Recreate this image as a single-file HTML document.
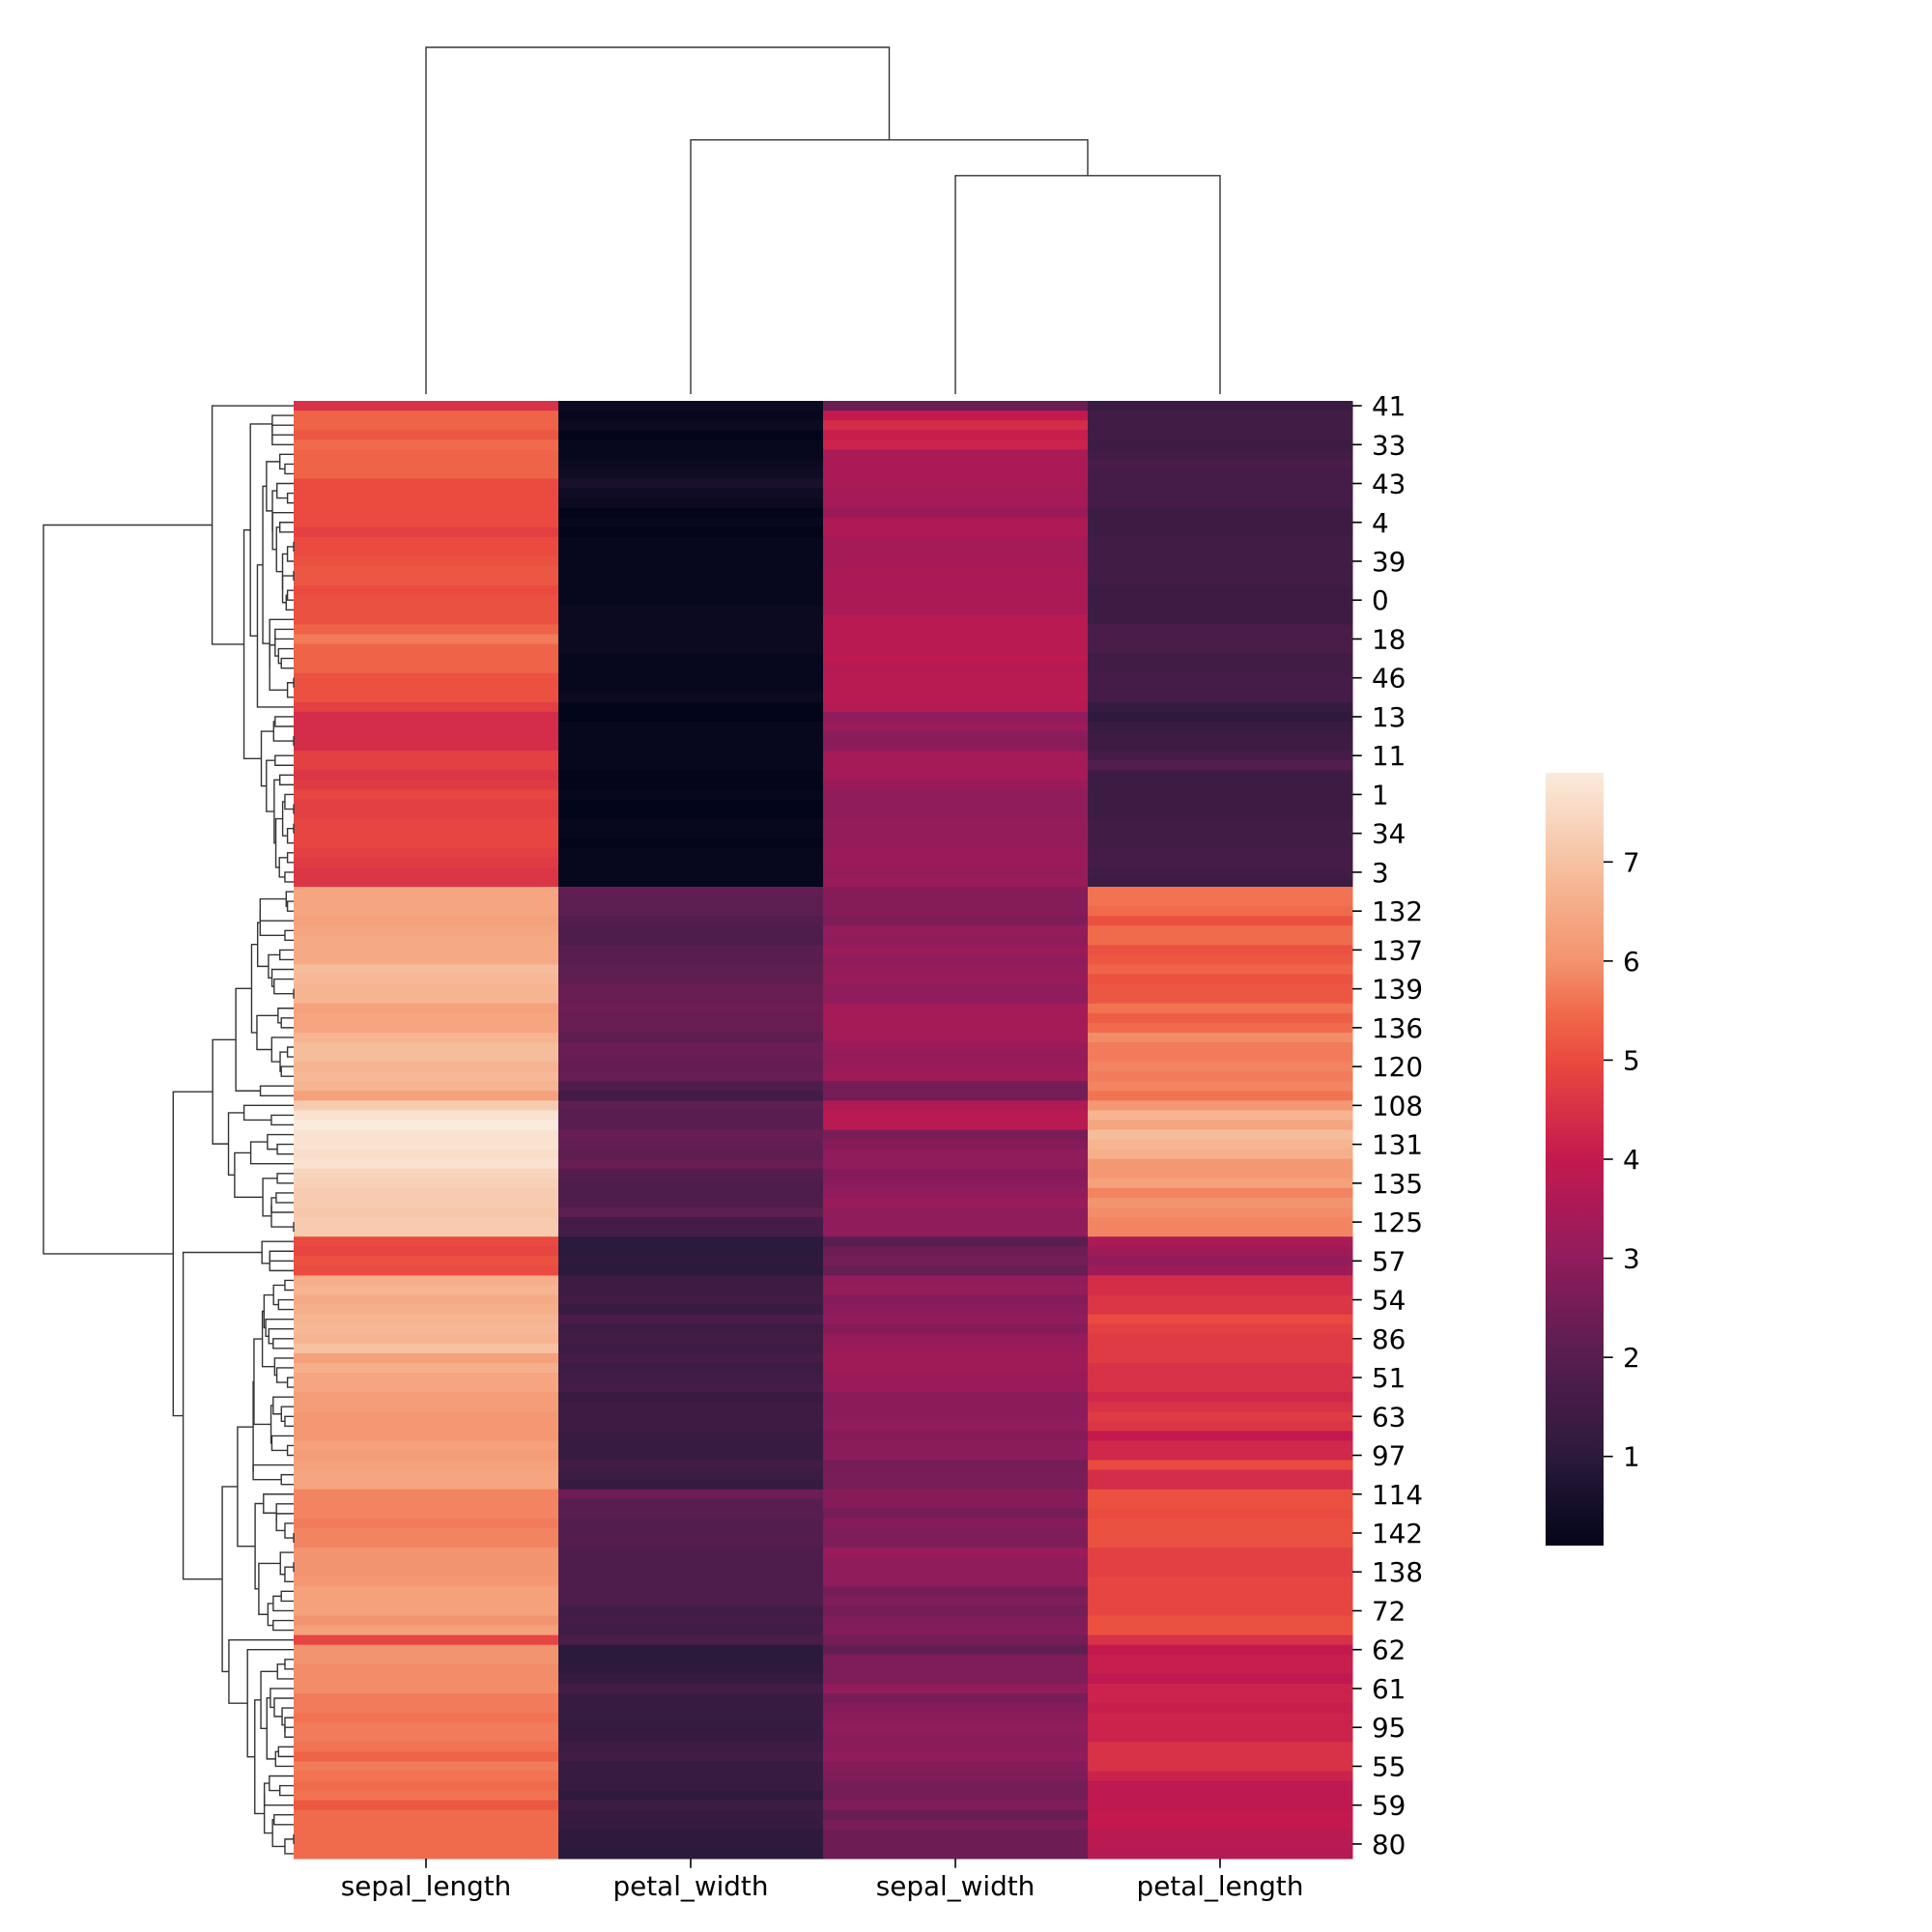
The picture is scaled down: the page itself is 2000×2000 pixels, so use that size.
<!DOCTYPE html>
<html><head><meta charset="utf-8"><style>
html,body{margin:0;padding:0;background:#fff;}
svg{display:block;font-family:"DejaVu Sans","Liberation Sans",sans-serif;}
</style></head><body>
<svg id="chart" xmlns="http://www.w3.org/2000/svg" width="2000" height="2000" viewBox="0 0 2000 2000">
<rect x="0" y="0" width="2000" height="2000" fill="#fff"/>
<g id="cells"></g>
<g id="rowdend"></g>
<g id="coldend"></g>
<g id="yticks"></g>
<g id="xticks"></g>
<g id="cbar"></g>
</svg>
<script>
const columns = ["sepal_length","petal_width","sepal_width","petal_length"];
// rows in clustered order: [sepal_length, petal_width, sepal_width, petal_length]
const sepalLength = [4.5,5.4,5.4,5.2,5.5,5.4,5.4,5.4,5.0,5.0,5.0,5.0,5.0,4.8,5.0,5.0,5.1,5.2,5.2,5.0,5.1,5.1,5.1,5.4,5.7,5.4,5.4,5.4,5.1,5.1,5.1,4.8,4.4,4.4,4.4,4.4,4.8,4.8,4.6,4.7,4.9,4.8,4.8,4.9,4.9,4.9,4.8,4.7,4.6,4.6,
6.4,6.4,6.4,6.3,6.4,6.5,6.5,6.5,6.9,6.8,6.7,6.7,6.3,6.4,6.4,6.7,6.9,6.9,6.7,6.8,6.7,6.3,7.2,7.7,7.9,7.7,7.7,7.6,7.7,7.4,7.3,7.2,7.2,7.1,7.2,7.2,
5.0,4.9,5.1,5.0,6.6,6.7,6.5,6.6,6.7,6.8,6.7,7.0,6.3,6.6,6.4,6.4,6.2,6.2,6.1,6.1,6.1,6.3,6.2,6.3,6.4,6.4,5.8,5.8,5.8,5.7,5.8,5.8,6.0,6.0,6.0,6.1,6.3,6.3,6.3,6.0,6.3,4.9,6.0,6.0,5.9,5.9,5.9,5.7,5.7,5.6,5.7,5.7,5.6,5.4,5.7,5.6,5.5,5.6,5.2,5.5,5.5,5.5,5.5,5.5];
const petalWidth = [0.3,0.2,0.3,0.1,0.2,0.2,0.3,0.4,0.6,0.4,0.3,0.1,0.2,0.1,0.2,0.2,0.2,0.2,0.2,0.2,0.2,0.3,0.3,0.3,0.3,0.3,0.2,0.2,0.2,0.2,0.3,0.1,0.1,0.2,0.2,0.2,0.2,0.2,0.1,0.1,0.2,0.1,0.1,0.2,0.2,0.1,0.2,0.2,0.2,0.2,
2.2,2.1,2.1,1.9,1.8,1.8,2.0,2.0,2.1,2.1,2.3,2.3,2.4,2.3,2.3,2.1,2.3,2.3,2.2,2.3,1.8,1.5,2.1,2.0,2.0,2.3,2.2,2.1,2.3,1.9,1.8,1.8,1.8,2.1,1.6,1.6,
1.0,1.0,1.1,1.0,1.4,1.4,1.5,1.3,1.7,1.4,1.5,1.4,1.6,1.4,1.5,1.6,1.3,1.4,1.4,1.4,1.3,1.3,1.3,1.5,1.4,1.2,2.4,2.0,2.0,1.9,1.9,1.9,1.8,1.8,1.8,1.8,1.8,1.8,1.5,1.6,1.5,1.7,1.0,1.0,1.1,1.2,1.5,1.3,1.3,1.3,1.2,1.3,1.4,1.5,1.3,1.3,1.3,1.1,1.4,1.3,1.2,1.1,1.1,1.0];
const sepalWidth = [2.3,4.0,4.4,4.1,4.2,3.5,3.5,3.5,3.5,3.4,3.4,3.2,3.6,3.6,3.4,3.4,3.4,3.5,3.5,3.5,3.5,3.5,3.8,3.8,3.8,3.8,3.9,3.7,3.8,3.8,3.8,3.7,3.0,3.2,2.9,2.9,3.4,3.4,3.4,3.2,3.0,3.0,3.0,3.1,3.1,3.1,3.2,3.2,3.1,3.2,
2.8,2.8,2.8,2.7,3.1,3.0,3.2,3.0,3.1,3.2,3.0,3.0,3.4,3.4,3.4,3.4,3.2,3.1,3.2,3.3,2.5,2.5,3.6,3.8,3.8,2.6,2.8,3.0,3.0,2.8,2.9,3.0,3.2,3.0,3.0,3.0,
2.0,2.4,2.5,2.3,3.0,3.1,2.8,2.9,3.0,2.8,3.1,3.2,3.3,3.3,3.2,3.2,2.9,2.9,2.9,3.0,2.8,2.9,2.9,2.5,2.6,2.6,2.8,2.8,2.5,2.8,2.7,2.7,3.2,3.0,3.0,3.0,2.5,2.7,2.5,2.7,2.8,2.5,2.2,2.7,2.7,2.7,3.0,2.6,2.8,2.9,3.0,2.9,2.9,3.0,2.8,2.7,2.5,2.5,2.7,2.3,2.6,2.4,2.4,2.4];
const petalLength = [1.3,1.5,1.5,1.5,1.4,1.5,1.7,1.6,1.6,1.6,1.6,1.4,1.4,1.4,1.5,1.5,1.5,1.5,1.5,1.4,1.4,1.4,1.4,1.7,1.7,1.7,1.5,1.5,1.6,1.6,1.6,1.2,1.1,1.3,1.4,1.4,1.6,1.9,1.4,1.4,1.4,1.4,1.4,1.5,1.5,1.5,1.6,1.6,1.5,1.4,
5.6,5.6,5.5,5.1,5.5,5.5,5.1,5.2,5.4,5.1,5.2,5.2,5.6,5.3,5.5,5.9,5.7,5.7,5.8,5.7,5.8,5.6,6.1,6.7,6.4,6.9,6.7,6.6,6.1,6.1,6.3,5.8,6.0,5.9,5.8,5.8,
3.5,3.3,3.0,3.3,4.4,4.4,4.6,4.6,5.0,4.8,4.7,4.7,4.7,4.5,4.5,4.5,4.3,4.5,4.7,4.6,4.0,4.3,4.3,5.0,4.4,4.4,5.1,5.1,5.0,5.1,5.1,5.1,4.8,4.8,4.8,4.9,4.9,4.9,4.9,5.1,5.1,4.5,4.0,4.1,4.1,3.9,4.2,4.2,4.1,4.2,4.2,4.2,4.5,4.5,4.5,4.2,3.9,3.9,3.9,4.0,4.0,3.8,3.8,3.7];
const rowLabels = ["41","33","43","4","39","0","18","46","13","11","1","34","3","132","137","139","136","120","108","131","135","125","57","54","86","51","63","97","114","142","138","72","62","61","95","55","59","80"];
const cbarTicks = [1,2,3,4,5,6,7];
// column dendrogram: merges (left cluster, right cluster, relative height)
const colMergeLeft = [2,1,0];
const colMergeRight = [3,"m0","m1"];
const colMergeHeight = [0.63,0.733,1.0];

const NS="http://www.w3.org/2000/svg";
const X0=304,X1=1400,Y0=415,Y1=1924,VMIN=0.1,VMAX=7.9;
const nRows=sepalLength.length, nCols=columns.length;
const rowH=(Y1-Y0)/nRows, colW=(X1-X0)/nCols;
const xCol=i=>X0+i*colW;
const yRow=r=>Y0+r*rowH;
const stops=[[0.1,[3,5,26]],[1,[43,26,59]],[2,[87,30,79]],[3,[144,28,92]],[4,[195,25,79]],[5,[234,74,63]],[5.5,[240,107,75]],[6,[243,148,112]],[6.4,[245,165,127]],[7,[246,194,162]],[7.9,[250,235,221]]];
function color(v){
  if(v<=stops[0][0])return `rgb(${stops[0][1]})`;
  for(let i=1;i<stops.length;i++){if(v<=stops[i][0]){const a=stops[i-1],b=stops[i];const t=(v-a[0])/(b[0]-a[0]);
    return `rgb(${a[1].map((c,k)=>Math.round(c+(b[1][k]-c)*t)).join(',')})`;}}
  return `rgb(${stops[stops.length-1][1]})`;
}
function mk(tag,attrs,parent){const e=document.createElementNS(NS,tag);for(const k in attrs)e.setAttribute(k,attrs[k]);parent.appendChild(e);return e;}
const series=[sepalLength,petalWidth,sepalWidth,petalLength];
const cells=document.getElementById('cells');
for(let r=0;r<nRows;r++){for(let c=0;c<nCols;c++){
  const e=mk('rect',{x:xCol(c),y:yRow(r),width:colW+0.5,height:rowH+0.5,fill:color(series[c][r])},cells);
  
  
}}
const yt=document.getElementById('yticks');
rowLabels.forEach((lab,i)=>{const r=i*4;const y=yRow(r+0.5);
  const t=mk('line',{x1:X1,x2:X1+9.7,y1:y,y2:y,stroke:'#000','stroke-width':1.6},yt);
  
  
  const tx=mk('text',{x:X1+20,y:y+10,'font-size':27.8,fill:'#000'},yt);tx.textContent=lab;
  
  
});
const xt=document.getElementById('xticks');
columns.forEach((lab,i)=>{const x=xCol(i+0.5);
  const t=mk('line',{x1:x,x2:x,y1:Y1,y2:Y1+9.7,stroke:'#000','stroke-width':1.6},xt);
  
  
  const tx=mk('text',{x:x,y:Y1+38,'font-size':27.8,'text-anchor':'middle',fill:'#000'},xt);tx.textContent=lab;
  
  
});
const rows=[];for(let r=0;r<nRows;r++)rows.push(series.map(s=>s[r]));
const dist=(a,b)=>Math.sqrt(a.reduce((s,v,k)=>s+(v-b[k])**2,0));
let cl=rows.map((v,i)=>({m:[i],pos:i+0.5,h:0}));
const links=[];
while(cl.length>1){let best=-1,bd=1e9;
  for(let i=0;i<cl.length-1;i++){let s=0;for(const a of cl[i].m)for(const b of cl[i+1].m)s+=dist(rows[a],rows[b]);s/=cl[i].m.length*cl[i+1].m.length;if(s<bd){bd=s;best=i;}}
  const A=cl[best],B=cl[best+1];const h=Math.max(bd,A.h,B.h);
  links.push([A,B,h]);
  cl.splice(best,2,{m:A.m.concat(B.m),pos:(A.pos+B.pos)/2,h:h});
}
const H=cl[0].h, DX0=45;
const hx=h=>X0-h/H*(X0-DX0);
const rd=document.getElementById('rowdend');
links.forEach(([A,B,h])=>{const ya=yRow(A.pos),yb=yRow(B.pos),x=hx(h);
  const p=mk('path',{d:`M${hx(A.h)},${ya}H${x}V${yb}H${hx(B.h)}`,fill:'none',stroke:'#333','stroke-width':1.4},rd);
  
  
});
const CY0=408,CY1=49;
const hy=f=>CY0-f*(CY0-CY1);
const cd=document.getElementById('coldend');
const nodes={};
const nodeOf=k=>typeof k==='number'?{x:xCol(k+0.5),h:0}:nodes[k];
colMergeHeight.forEach((f,i)=>{const a=nodeOf(colMergeLeft[i]),b=nodeOf(colMergeRight[i]);
  const y=hy(f);
  const p=mk('path',{d:`M${a.x},${hy(a.h)}V${y}H${b.x}V${hy(b.h)}`,fill:'none',stroke:'#333','stroke-width':1.4},cd);
  
  
  nodes['m'+i]={x:(a.x+b.x)/2,h:f};
});
const cb=document.getElementById('cbar');
const CBX=1600,CBW=60,CBT=800,CBB=1600;
const defs=mk('defs',{},cb);
const lg=mk('linearGradient',{id:'cg',x1:0,y1:1,x2:0,y2:0},defs);
stops.forEach(s=>mk('stop',{offset:((s[0]-VMIN)/(VMAX-VMIN)).toFixed(4),'stop-color':`rgb(${s[1]})`},lg));
const cr=mk('rect',{x:CBX,y:CBT,width:CBW,height:CBB-CBT,fill:'url(#cg)'},cb);


const cy=v=>CBB-(v-VMIN)/(VMAX-VMIN)*(CBB-CBT);
cbarTicks.forEach(v=>{const y=cy(v);
  const t=mk('line',{x1:CBX+CBW,x2:CBX+CBW+9.7,y1:y,y2:y,stroke:'#000','stroke-width':1.6},cb);
  
  
  const tx=mk('text',{x:CBX+CBW+20,y:y+10,'font-size':27.8,fill:'#000'},cb);tx.textContent=String(v);
  
  
});
</script>
</body></html>
